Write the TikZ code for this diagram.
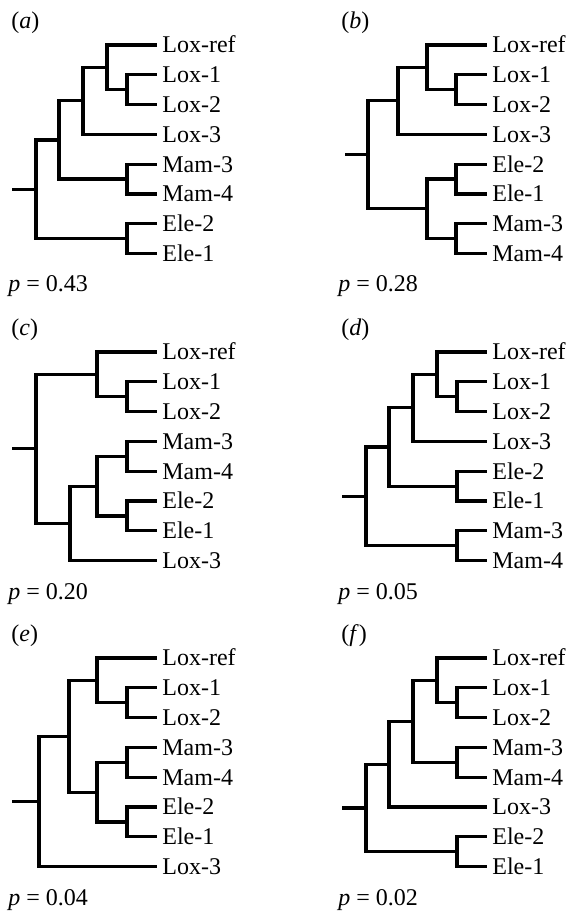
\documentclass[tikz,border=0pt]{standalone}
\usepackage{fontspec}
\setmainfont{Liberation Serif}

\begin{document}
\begin{tikzpicture}[x=0.5pt, y=-0.5pt,
  every node/.style={font=\fontsize{12}{14}\selectfont},
  branch/.style={line width=1.6pt},
  leaf/.style={anchor=west, inner xsep=2.5pt, inner ysep=0pt, text height=7.9pt, text depth=0pt},
  tag/.style={anchor=west, inner sep=0pt},
  pval/.style={anchor=base west, inner sep=0pt}]
\useasboundingbox (0,0) rectangle (570,913);

% (a)
\node[tag] (a-tag) at (11,23) {(\textit{a})};
\foreach \t [count=\i from 0] in {Lox-ref,Lox-1,Lox-2,Lox-3,Mam-3,Mam-4,Ele-2,Ele-1}
  \node[leaf] (a\i) at (157,{45+29.8*\i}) {\t};
\coordinate (a-c1) at (127,89.7);
\coordinate (a-c2) at (127,179.1);
\coordinate (a-c3) at (127,238.7);
\coordinate (a-n4) at (107,67.35);
\coordinate (a-n3) at (83,100.9);
\coordinate (a-n2) at (59,140);
\coordinate (a-n1) at (36,189.35);
\coordinate (a-st) at (12,189.35);
\draw[branch] (a-st) -- (a-n1);
\draw[branch] (a-n1) |- (a-n2) (a-n1) |- (a-c3);
\draw[branch] (a-n2) |- (a-n3) (a-n2) |- (a-c2);
\draw[branch] (a-n3) |- (a-n4) (a-n3) |- (a3.west);
\draw[branch] (a-n4) |- (a0.west) (a-n4) |- (a-c1);
\draw[branch] (a-c1) |- (a1.west) (a-c1) |- (a2.west);
\draw[branch] (a-c2) |- (a4.west) (a-c2) |- (a5.west);
\draw[branch] (a-c3) |- (a6.west) (a-c3) |- (a7.west);
\node[pval] (a-p) at (8,292) {\textit{p} = 0.43};

% (b)
\begin{scope}[shift={(330,0)}]
\node[tag] (b-tag) at (11,23) {(\textit{b})};
\foreach \t [count=\i from 0] in {Lox-ref,Lox-1,Lox-2,Lox-3,Ele-2,Ele-1,Mam-3,Mam-4}
  \node[leaf] (b\i) at (157,{45+29.8*\i}) {\t};
\coordinate (b-c1) at (126,89.7);
\coordinate (b-c2) at (126,179.1);
\coordinate (b-c3) at (126,238.7);
\coordinate (b-n4) at (97,67.35);
\coordinate (b-n5) at (97,208.9);
\coordinate (b-n3) at (68,100.9);
\coordinate (b-n1) at (38,154.9);
\coordinate (b-st) at (15,154.9);
\draw[branch] (b-st) -- (b-n1);
\draw[branch] (b-n1) |- (b-n3) (b-n1) |- (b-n5);
\draw[branch] (b-n3) |- (b-n4) (b-n3) |- (b3.west);
\draw[branch] (b-n4) |- (b0.west) (b-n4) |- (b-c1);
\draw[branch] (b-n5) |- (b-c2) (b-n5) |- (b-c3);
\draw[branch] (b-c1) |- (b1.west) (b-c1) |- (b2.west);
\draw[branch] (b-c2) |- (b4.west) (b-c2) |- (b5.west);
\draw[branch] (b-c3) |- (b6.west) (b-c3) |- (b7.west);
\node[pval] (b-p) at (8,292) {\textit{p} = 0.28};
\end{scope}

% (c)
\begin{scope}[shift={(0,307)}]
\node[tag] (c-tag) at (11,23) {(\textit{c})};
\foreach \t [count=\i from 0] in {Lox-ref,Lox-1,Lox-2,Mam-3,Mam-4,Ele-2,Ele-1,Lox-3}
  \node[leaf] (c\i) at (157,{45+29.8*\i}) {\t};
\coordinate (c-c1) at (127,89.7);
\coordinate (c-c2) at (127,149.3);
\coordinate (c-c3) at (127,208.9);
\coordinate (c-n4) at (97,67.35);
\coordinate (c-n5) at (97,179.1);
\coordinate (c-n3) at (70,216.35);
\coordinate (c-n1) at (36,141.85);
\coordinate (c-st) at (12,141.85);
\draw[branch] (c-st) -- (c-n1);
\draw[branch] (c-n1) |- (c-n4) (c-n1) |- (c-n3);
\draw[branch] (c-n3) |- (c-n5) (c-n3) |- (c7.west);
\draw[branch] (c-n4) |- (c0.west) (c-n4) |- (c-c1);
\draw[branch] (c-n5) |- (c-c2) (c-n5) |- (c-c3);
\draw[branch] (c-c1) |- (c1.west) (c-c1) |- (c2.west);
\draw[branch] (c-c2) |- (c3.west) (c-c2) |- (c4.west);
\draw[branch] (c-c3) |- (c5.west) (c-c3) |- (c6.west);
\node[pval] (c-p) at (8,292) {\textit{p} = 0.20};
\end{scope}

% (d)
\begin{scope}[shift={(330,307)}]
\node[tag] (d-tag) at (11,23) {(\textit{d})};
\foreach \t [count=\i from 0] in {Lox-ref,Lox-1,Lox-2,Lox-3,Ele-2,Ele-1,Mam-3,Mam-4}
  \node[leaf] (d\i) at (157,{45+29.8*\i}) {\t};
\coordinate (d-c1) at (127,89.7);
\coordinate (d-c2) at (127,179.1);
\coordinate (d-c3) at (127,238.7);
\coordinate (d-n4) at (107,67.35);
\coordinate (d-n3) at (83,100.9);
\coordinate (d-n2) at (59,140);
\coordinate (d-n1) at (36,189.35);
\coordinate (d-st) at (12,189.35);
\draw[branch] (d-st) -- (d-n1);
\draw[branch] (d-n1) |- (d-n2) (d-n1) |- (d-c3);
\draw[branch] (d-n2) |- (d-n3) (d-n2) |- (d-c2);
\draw[branch] (d-n3) |- (d-n4) (d-n3) |- (d3.west);
\draw[branch] (d-n4) |- (d0.west) (d-n4) |- (d-c1);
\draw[branch] (d-c1) |- (d1.west) (d-c1) |- (d2.west);
\draw[branch] (d-c2) |- (d4.west) (d-c2) |- (d5.west);
\draw[branch] (d-c3) |- (d6.west) (d-c3) |- (d7.west);
\node[pval] (d-p) at (8,292) {\textit{p} = 0.05};
\end{scope}

% (e)
\begin{scope}[shift={(0,613)}]
\node[tag] (e-tag) at (11,23) {(\textit{e})};
\foreach \t [count=\i from 0] in {Lox-ref,Lox-1,Lox-2,Mam-3,Mam-4,Ele-2,Ele-1,Lox-3}
  \node[leaf] (e\i) at (157,{45+29.8*\i}) {\t};
\coordinate (e-c1) at (127,89.7);
\coordinate (e-c2) at (127,149.3);
\coordinate (e-c3) at (127,208.9);
\coordinate (e-n4) at (97,67.35);
\coordinate (e-n5) at (97,179.1);
\coordinate (e-n2) at (69,123.2);
\coordinate (e-n1) at (39,188.4);
\coordinate (e-st) at (12,188.4);
\draw[branch] (e-st) -- (e-n1);
\draw[branch] (e-n1) |- (e-n2) (e-n1) |- (e7.west);
\draw[branch] (e-n2) |- (e-n4) (e-n2) |- (e-n5);
\draw[branch] (e-n4) |- (e0.west) (e-n4) |- (e-c1);
\draw[branch] (e-n5) |- (e-c2) (e-n5) |- (e-c3);
\draw[branch] (e-c1) |- (e1.west) (e-c1) |- (e2.west);
\draw[branch] (e-c2) |- (e3.west) (e-c2) |- (e4.west);
\draw[branch] (e-c3) |- (e5.west) (e-c3) |- (e6.west);
\node[pval] (e-p) at (8,292) {\textit{p} = 0.04};
\end{scope}

% (f)
\begin{scope}[shift={(330,613)}]
\node[tag] (f-tag) at (11,23) {(\textit{f\/})};
\foreach \t [count=\i from 0] in {Lox-ref,Lox-1,Lox-2,Mam-3,Mam-4,Lox-3,Ele-2,Ele-1}
  \node[leaf] (f\i) at (157,{45+29.8*\i}) {\t};
\coordinate (f-c1) at (127,89.7);
\coordinate (f-c2) at (127,149.3);
\coordinate (f-c3) at (127,238.7);
\coordinate (f-n4) at (107,67.35);
\coordinate (f-n3) at (83,108.3);
\coordinate (f-n2) at (59,151.15);
\coordinate (f-n1) at (36,194.9);
\coordinate (f-st) at (12,194.9);
\draw[branch] (f-st) -- (f-n1);
\draw[branch] (f-n1) |- (f-n2) (f-n1) |- (f-c3);
\draw[branch] (f-n2) |- (f-n3) (f-n2) |- (f5.west);
\draw[branch] (f-n3) |- (f-n4) (f-n3) |- (f-c2);
\draw[branch] (f-n4) |- (f0.west) (f-n4) |- (f-c1);
\draw[branch] (f-c1) |- (f1.west) (f-c1) |- (f2.west);
\draw[branch] (f-c2) |- (f3.west) (f-c2) |- (f4.west);
\draw[branch] (f-c3) |- (f6.west) (f-c3) |- (f7.west);
\node[pval] (f-p) at (8,292) {\textit{p} = 0.02};
\end{scope}
\end{tikzpicture}
\end{document}
